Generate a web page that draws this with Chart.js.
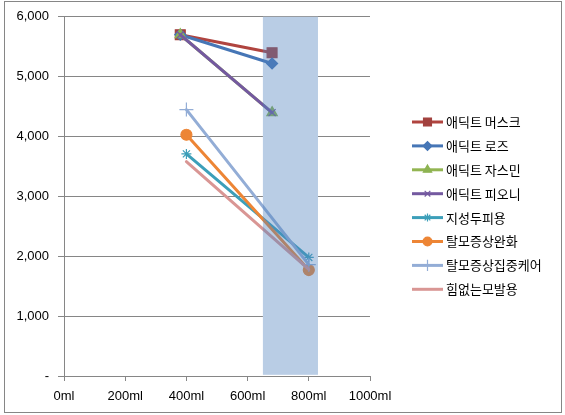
<!DOCTYPE html>
<html>
<head>
<meta charset="utf-8">
<script src="https://cdn.jsdelivr.net/npm/chart.js@4.4.0/dist/chart.umd.min.js"></script>
<style>
  html, body { margin: 0; padding: 0; background: #fff; }
  #wrap { width: 565px; height: 415px; }
</style>
</head>
<body>
<div id="wrap"><canvas id="chart" width="565" height="415"></canvas></div>
<script>
const seriesNames = ["애딕트 머스크", "애딕트 로즈", "애딕트 자스민", "애딕트 피오니",
  "지성두피용", "탈모증상완화", "탈모증상집중케어", "힘없는모발용"];
const startMl = [380, 380, 380, 380, 400, 400, 400, 400];
const startValues = [5700, 5700, 5700, 5700, 3710, 4030, 4450, 3580];
const endMl = [680, 680, 680, 680, 800, 800, 800, 800];
const endValues = [5400, 5220, 4400, 4400, 1980, 1770, 1860, 1780];
const bandMl = [650, 830];
const bandValues = [20, 6000];

const lineColors = ["#B0443F", "#4676B6", "#93B552", "#7459A0", "#3C9FB9", "#ED8535", "#93ADD6", "#D99694"];
const markerColors = ["#A2413E", "#4676B6", "#8DB352", "#7459A0", "#3C9FB9", "#ED8535", "#93ADD6", "#D99694"];
const markerStyles = ["rect", "rectRot", "triangle", "crossRot", "star", "circle", "cross", "circle"];
const markerSizes = [7, 5.5, 6, 5, 5, 5.5, 7, 0];

const font = "Liberation Sans";
const gray = "#868686";

const datasets = seriesNames.map((name, i) => ({
  label: name,
  data: [{ x: startMl[i], y: startValues[i] }, { x: endMl[i], y: endValues[i] }],
  showLine: true,
  borderColor: lineColors[i],
  borderWidth: 3,
  borderCapStyle: "round",
  pointStyle: markerStyles[i],
  pointRadius: markerSizes[i],
  pointHoverRadius: markerSizes[i],
  pointBackgroundColor: markerColors[i],
  pointBorderColor: markerColors[i],
  pointBorderWidth: 1.2,
  order: seriesNames.length - i,
}));

// band: white under the lines (hides gridlines), translucent blue over them
const bandPlugin = {
  id: "band",
  beforeDatasetsDraw(chart) {
    drawBand(chart, "#ffffff");
  },
  afterDatasetsDraw(chart) {
    drawBand(chart, "rgba(79,129,189,0.4)");
  },
};

function drawBand(chart, color) {
  const { ctx, scales } = chart;
  const x0 = scales.x.getPixelForValue(bandMl[0]);
  const x1 = scales.x.getPixelForValue(bandMl[1]);
  const y0 = scales.y.getPixelForValue(bandValues[1]);
  const y1 = scales.y.getPixelForValue(bandValues[0]);
  ctx.save();
  ctx.fillStyle = color;
  ctx.fillRect(x0, y0, x1 - x0, y1 - y0);
  ctx.restore();
}

const framePlugin = {
  id: "frame",
  beforeDraw(chart) {
    const ctx = chart.ctx;
    ctx.save();
    ctx.fillStyle = "#ffffff";
    ctx.fillRect(0, 0, chart.width, chart.height);
    ctx.strokeStyle = gray;
    ctx.lineWidth = 1;
    ctx.strokeRect(4.5, 1.5, 557, 411);
    ctx.restore();
  },
};

const legendPlugin = {
  id: "sideLegend",
  afterDraw(chart) {
    const ctx = chart.ctx;
    ctx.save();
    chart.data.datasets.forEach((ds, i) => {
      const y = 122 + i * 23.9;
      ctx.strokeStyle = ds.borderColor;
      ctx.lineWidth = 3;
      ctx.lineCap = "butt";
      ctx.beginPath();
      ctx.moveTo(412, y);
      ctx.lineTo(443, y);
      ctx.stroke();
      if (ds.pointRadius > 0) {
        ctx.fillStyle = ds.pointBackgroundColor;
        ctx.strokeStyle = ds.pointBorderColor;
        ctx.lineWidth = ds.pointBorderWidth;
        Chart.helpers.drawPoint(ctx, {
          pointStyle: ds.pointStyle,
          radius: ds.pointRadius * 0.8,
          rotation: 0,
          borderWidth: ds.pointBorderWidth,
        }, 427.5, y);
      }
      ctx.fillStyle = "#000000";
      ctx.font = '13px "Noto Sans CJK KR"';
      ctx.textBaseline = "middle";
      ctx.textAlign = "left";
      ctx.fillText(ds.label, 446, y);
    });
    ctx.restore();
  },
};

new Chart(document.getElementById("chart"), {
  type: "scatter",
  data: { datasets },
  plugins: [framePlugin, bandPlugin, legendPlugin],
  options: {
    responsive: false,
    animation: false,
    layout: { padding: { left: 4, right: 195, top: 16, bottom: 9 } },
    plugins: {
      legend: { display: false },
      tooltip: { enabled: false },
    },
    scales: {
      x: {
        type: "linear",
        min: 0,
        max: 1000,
        afterFit(scale) { scale.height = 30; },
        ticks: {
          stepSize: 200,
          padding: 8,
          color: "#000000",
          font: { family: font, size: 13 },
          maxRotation: 0,
          callback: (v) => v + "ml",
        },
        grid: { drawOnChartArea: false, drawTicks: true, tickLength: 5, color: gray },
        border: { color: gray, width: 1 },
      },
      y: {
        min: 0,
        max: 6000,
        afterFit(scale) { scale.width = 60; },
        ticks: {
          stepSize: 1000,
          padding: 9,
          color: "#000000",
          font: { family: font, size: 13 },
          callback: (v) => (v === 0 ? "-" : v.toLocaleString("en-US")),
        },
        grid: { color: gray, tickLength: 6, lineWidth: 1 },
        border: { color: gray, width: 1 },
      },
    },
  },
});
</script>
</body>
</html>
